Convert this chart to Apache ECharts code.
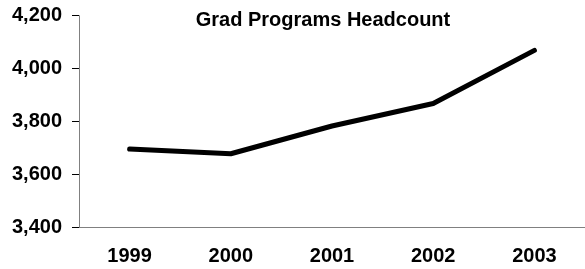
<!DOCTYPE html>
<html>
<head>
<meta charset="utf-8">
<script src="https://cdn.jsdelivr.net/npm/echarts@6/dist/echarts.min.js"></script>
<style>
  html, body { margin: 0; padding: 0; background: #fff; }
  #chart { width: 585px; height: 269px; }
</style>
</head>
<body>
<div id="chart"></div>
<script>
var years = ['1999', '2000', '2001', '2002', '2003'];
var headcount = [3696, 3678, 3783, 3868, 4069];
var yTicks = [3400, 3600, 3800, 4000, 4200];

var fontName = '"Liberation Sans", Arial, sans-serif';
var axisGrey = '#808080';

var chart = echarts.init(document.getElementById('chart'));

var option = {
    animation: false,
    backgroundColor: '#fff',
    title: {
        text: 'Grad Programs Headcount',
        left: 323,
        top: 10,
        padding: 0,
        textAlign: 'center',
        textStyle: {
            fontFamily: fontName,
            fontSize: 20,
            fontWeight: 'bold',
            color: '#000'
        }
    },
    grid: {
        left: 79,
        right: -4,
        top: 15.7,
        bottom: 41.7,
        containLabel: false
    },
    xAxis: {
        type: 'category',
        data: years,
        boundaryGap: true,
        axisLine: { lineStyle: { color: axisGrey, width: 1 } },
        axisTick: { length: 5, lineStyle: { color: '#000' } },
        axisLabel: {
            margin: 19,
            fontFamily: fontName,
            fontSize: 20,
            fontWeight: 'bold',
            color: '#000'
        }
    },
    yAxis: {
        type: 'value',
        min: yTicks[0],
        max: yTicks[yTicks.length - 1],
        interval: 200,
        splitLine: { show: false },
        axisLine: { show: true, lineStyle: { color: axisGrey, width: 1 } },
        axisTick: { show: true, length: 7, lineStyle: { color: '#000' } },
        axisLabel: {
            margin: 17,
            fontFamily: fontName,
            fontSize: 20,
            fontWeight: 'bold',
            color: '#000',
            formatter: function (v) {
                return v.toLocaleString('en-US');
            }
        }
    },
    series: [{
        name: 'Headcount',
        type: 'line',
        data: headcount,
        showSymbol: false,
        symbol: 'none',
        lineStyle: {
            color: '#000',
            width: 5,
            cap: 'round',
            join: 'round'
        }
    }]
};

chart.setOption(option);
</script>
</body>
</html>
